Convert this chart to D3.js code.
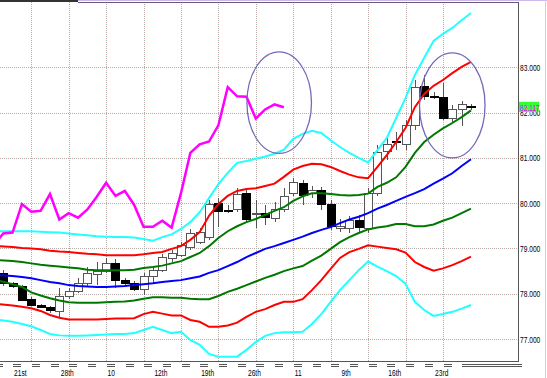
<!DOCTYPE html>
<html>
<head>
<meta charset="utf-8">
<script src="https://cdn.jsdelivr.net/npm/d3@7"></script>
<style>
  body { margin: 0; background: #fff; }
  svg { display: block; }
  text { font-family: "Liberation Sans", Arial, sans-serif; }
</style>
</head>
<body>
<svg id="drawing_region"></svg>
<script>
// x-axis labels (placed on candle index)
const dateLabels = ["21st", "28th", "10", "12th", "19th", "26th", "11", "9th", "16th", "23rd"];
const labelIdx   = [1, 6, 11, 16, 21, 26, 31, 36, 41, 46];
const gridIdx    = [3, 7, 11, 15, 19, 23, 27, 31, 35, 39, 43, 47];
const priceTicks = [77, 78, 79, 80, 81, 82, 83];

// candles
const opens  = [78.45,78.23,78.15,77.88,77.75,77.70,77.60,77.93,78.04,78.23,78.42,78.49,78.67,78.30,78.23,78.10,78.39,78.52,78.77,78.85,
                79.03,79.14,79.25,80.00,79.84,79.87,80.22,79.74,79.78,79.67,79.87,80.22,80.44,80.22,80.27,79.98,79.45,79.45,79.61,79.45,
                80.22,81.13,81.37,81.30,81.72,82.57,82.36,82.34,81.87,82.07,82.13];
const highs  = [78.52,78.25,78.19,77.92,77.77,77.73,78.12,78.12,78.35,78.60,78.70,78.79,78.76,78.35,78.28,78.46,78.61,78.88,78.97,79.14,
                79.44,79.45,80.07,80.11,79.95,80.34,80.33,80.07,79.95,80.02,80.33,80.55,80.51,80.38,80.36,80.07,79.65,79.71,79.74,80.33,
                81.28,81.46,81.57,81.83,82.72,82.83,82.45,82.65,82.16,82.25,82.19];
const lows   = [78.17,78.12,77.84,77.73,77.68,77.58,77.46,77.89,78.01,78.15,78.20,78.46,78.12,78.19,78.06,77.97,78.24,78.48,78.70,78.81,
                78.96,79.10,79.18,79.48,79.78,79.80,79.58,79.45,79.51,79.58,79.80,80.16,79.96,80.11,79.85,79.41,79.36,79.34,79.34,79.34,
                80.16,80.95,81.17,81.17,81.61,82.27,82.31,81.83,81.79,81.70,82.05];
const closes = [78.23,78.15,77.86,77.75,77.70,77.62,77.93,78.04,78.23,78.45,78.49,78.67,78.30,78.23,78.10,78.39,78.52,78.81,78.88,79.07,
                79.33,79.35,79.98,79.81,79.83,80.20,79.64,79.78,79.68,79.86,80.14,80.45,80.16,80.27,79.96,79.48,79.48,79.61,79.46,80.22,
                81.11,81.30,81.36,81.72,82.56,82.36,82.35,81.87,82.07,82.18,82.117];

// moving average and bands
const ma     = [78.41,78.39,78.37,78.34,78.30,78.26,78.23,78.19,78.17,78.16,78.15,78.15,78.16,78.17,78.19,78.21,78.23,78.26,78.28,78.30,
                78.34,78.38,78.46,78.52,78.61,78.70,78.81,78.90,78.99,79.05,79.12,79.19,79.26,79.34,79.41,79.47,79.56,79.64,79.70,79.78,
                79.88,79.96,80.05,80.14,80.22,80.31,80.43,80.54,80.66,80.82,80.97];
const up1    = [78.74,78.72,78.70,78.67,78.64,78.62,78.60,78.58,78.56,78.53,78.52,78.52,78.52,78.52,78.53,78.57,78.59,78.62,78.67,78.72,
                78.81,78.90,79.05,79.23,79.38,79.49,79.58,79.65,79.74,79.83,79.91,80.05,80.15,80.22,80.22,80.20,80.18,80.17,80.18,80.21,
                80.36,80.45,80.57,80.80,81.11,81.35,81.51,81.65,81.77,81.90,82.05];
const dn1    = [78.28,78.21,78.15,78.03,77.96,77.90,77.85,77.81,77.80,77.80,77.80,77.81,77.82,77.83,77.85,77.89,77.92,77.92,77.91,77.91,
                77.89,77.88,77.88,77.95,78.04,78.11,78.19,78.27,78.35,78.42,78.50,78.56,78.61,78.73,78.84,78.99,79.14,79.25,79.34,79.42,
                79.46,79.49,79.54,79.54,79.49,79.49,79.53,79.61,79.68,79.78,79.88];
const up2    = [79.05,79.03,79.01,79.00,78.98,78.95,78.93,78.92,78.90,78.88,78.87,78.85,78.85,78.85,78.85,78.87,78.90,78.92,78.99,79.05,
                79.19,79.36,79.72,79.98,80.16,80.27,80.31,80.33,80.38,80.43,80.58,80.74,80.82,80.87,80.86,80.80,80.71,80.63,80.57,80.55,
                80.80,81.06,81.35,81.66,82.12,82.41,82.59,82.72,82.87,83.01,83.12];
const dn2    = [77.77,77.74,77.71,77.68,77.62,77.53,77.47,77.43,77.43,77.43,77.43,77.44,77.45,77.45,77.46,77.55,77.60,77.56,77.52,77.52,
                77.42,77.38,77.27,77.27,77.30,77.36,77.49,77.60,77.66,77.75,77.82,77.82,77.88,78.08,78.30,78.55,78.79,78.92,78.99,79.07,
                79.04,79.01,78.98,78.91,78.70,78.59,78.51,78.56,78.63,78.72,78.82];
const up3    = [79.38,79.38,79.38,79.38,79.37,79.36,79.35,79.33,79.31,79.29,79.27,79.26,79.25,79.25,79.24,79.21,79.17,79.25,79.31,79.43,
                79.58,79.80,80.11,80.42,80.67,80.89,80.93,80.98,81.03,81.09,81.18,81.42,81.53,81.60,81.55,81.39,81.24,81.11,81.00,80.90,
                81.17,81.44,81.88,82.32,82.83,83.21,83.58,83.74,83.87,84.04,84.20];
const dn3    = [77.42,77.38,77.33,77.28,77.20,77.11,77.08,77.07,77.07,77.08,77.09,77.10,77.11,77.11,77.13,77.20,77.27,77.20,77.13,77.16,
                76.98,76.87,76.67,76.61,76.61,76.61,76.76,76.93,77.07,77.13,77.15,77.15,77.16,77.33,77.55,77.82,78.08,78.30,78.52,78.71,
                78.60,78.50,78.39,78.22,77.82,77.64,77.51,77.55,77.60,77.67,77.75];

const lagShift  = 20;       // lagging span: close drawn 20 bars back
const lastPrice = 82.117;
// marked areas: centre (bar index, price), radius (bars, price)
const circles = [
  { i: 29.5, p: 82.22, ri: 3.45, rp: 1.12 },
  { i: 48.0, p: 82.16, ri: 3.50, rp: 1.16 }
];

const width = 547, height = 378;
const plot = { left: 0, top: 2, right: 518.5, bottom: 361.5 };

const svg = d3.select('#drawing_region')
    .attr('width', width)
    .attr('height', height);

const xscale = d3.scaleLinear().domain([0, 50]).range([3.2, 471]);
const yscale = d3.scaleLinear().domain([77, 83]).range([339, 67.3]);

svg.append('defs').append('clipPath').attr('id', 'plotclip')
  .append('rect')
    .attr('x', plot.left).attr('y', plot.top)
    .attr('width', plot.right - plot.left).attr('height', plot.bottom - plot.top);

// grid (two dot colours, like the original)
const grid = svg.append('g');
[['#d6a2a2', 0], ['#98b6ae', 2]].forEach(([col, off]) => {
  grid.selectAll(null).data(priceTicks).enter().append('line')
      .attr('x1', plot.left).attr('x2', plot.right)
      .attr('y1', d => Math.round(yscale(d)) + 0.5).attr('y2', d => Math.round(yscale(d)) + 0.5)
      .attr('stroke', col).attr('stroke-dasharray', '1 3').attr('stroke-dashoffset', off);
  grid.selectAll(null).data(gridIdx).enter().append('line')
      .attr('x1', d => Math.round(xscale(d)) + 0.5).attr('x2', d => Math.round(xscale(d)) + 0.5)
      .attr('y1', plot.top).attr('y2', plot.bottom)
      .attr('stroke', col).attr('stroke-dasharray', '1 3').attr('stroke-dashoffset', off);
});

const chart = svg.append('g').attr('clip-path', 'url(#plotclip)');

// candles
const bars = d3.range(opens.length).map(i => ({ i, o: opens[i], h: highs[i], l: lows[i], c: closes[i] }));
const bw = 8;
const candle = chart.append('g').attr('shape-rendering', 'crispEdges');
candle.selectAll('line').data(bars).enter().append('line')
    .attr('x1', d => Math.round(xscale(d.i)) + 0.5).attr('x2', d => Math.round(xscale(d.i)) + 0.5)
    .attr('y1', d => yscale(d.h)).attr('y2', d => yscale(d.l))
    .attr('stroke', '#555');
candle.selectAll('rect').data(bars).enter().append('rect')
    .attr('x', d => Math.round(xscale(d.i) - bw / 2) + 0.5)
    .attr('y', d => yscale(Math.max(d.o, d.c)))
    .attr('width', bw)
    .attr('height', d => Math.max(1, Math.abs(yscale(d.o) - yscale(d.c))))
    .attr('fill', d => d.c < d.o ? '#000' : '#fff')
    .attr('stroke', d => d.c < d.o ? '#000' : '#555');

// bands and average (first point pulled to the left edge, as in the original)
const line = d3.line().x((d, i) => i === 0 ? plot.left : xscale(i)).y(d => yscale(d));
const series = [
  { v: up3, col: '#22ffff' }, { v: dn3, col: '#22ffff' },
  { v: up2, col: '#ff0000' }, { v: dn2, col: '#ff0000' },
  { v: up1, col: '#007800' }, { v: dn1, col: '#007800' },
  { v: ma,  col: '#0000ff' }
];
chart.selectAll('path.band').data(series).enter().append('path')
    .attr('class', 'band')
    .attr('d', d => line(d.v))
    .attr('fill', 'none')
    .attr('stroke', d => d.col)
    .attr('stroke-width', 2);

// lagging span
const lag = d3.range(lagShift - 1, closes.length).map(k => ({ i: k - lagShift, v: closes[k] }));
chart.append('path')
    .attr('d', d3.line().x(d => xscale(d.i)).y(d => yscale(d.v))(lag))
    .attr('fill', 'none')
    .attr('stroke', '#ff00ff')
    .attr('stroke-width', 2.5);

// circles
const step = xscale(1) - xscale(0);
const pxPerUnit = yscale(82) - yscale(83);
chart.selectAll('ellipse').data(circles).enter().append('ellipse')
    .attr('cx', d => xscale(d.i)).attr('cy', d => yscale(d.p))
    .attr('rx', d => d.ri * step).attr('ry', d => d.rp * pxPerUnit)
    .attr('fill', 'none').attr('stroke', '#7468b8').attr('stroke-width', 1.3);

// frame
const frame = svg.append('g').attr('shape-rendering', 'crispEdges');
frame.append('line').attr('x1', 0).attr('x2', 547).attr('y1', 0.5).attr('y2', 0.5).attr('stroke', '#cdb8ee');
frame.append('line').attr('x1', 0).attr('x2', 78).attr('y1', 1).attr('y2', 1).attr('stroke', '#333').attr('stroke-width', 2);
frame.append('line').attr('x1', 78).attr('x2', plot.right).attr('y1', 2.5).attr('y2', 2.5).attr('stroke', '#6a5a7a');
frame.append('line').attr('x1', plot.right).attr('x2', plot.right).attr('y1', 2).attr('y2', plot.bottom).attr('stroke', '#555');
frame.append('line').attr('x1', 0).attr('x2', plot.right).attr('y1', plot.bottom).attr('y2', plot.bottom).attr('stroke', '#555');
frame.append('line').attr('x1', 545.5).attr('x2', 545.5).attr('y1', 0).attr('y2', height).attr('stroke', '#d8c8f0');

// x-axis marks under the frame
const markIdx = d3.range(0, 25).map(k => -0.5 + 2 * k);
[364.5, 366.5].forEach(yy => {
  frame.selectAll(null).data(markIdx).enter().append('line')
      .attr('x1', d => xscale(d) - 4).attr('x2', d => xscale(d) + 4)
      .attr('y1', yy).attr('y2', yy).attr('stroke', '#555');
  frame.append('line')
      .attr('x1', xscale(49)).attr('x2', plot.right + 3)
      .attr('y1', yy).attr('y2', yy).attr('stroke', '#555');
});

// the original uses a narrow bitmap font: squeeze the text horizontally
const squeeze = 0.7;
const place = (x, y) => `translate(${x},${y}) scale(${squeeze},1)`;

// labels
svg.selectAll('text.xl').data(dateLabels).enter().append('text')
    .attr('class', 'xl')
    .attr('transform', (d, i) => place(xscale(labelIdx[i]) + 1.5, 376))
    .attr('font-size', '9.5px')
    .attr('fill', '#000')
    .text(d => d);

svg.selectAll('text.yl').data(priceTicks).enter().append('text')
    .attr('class', 'yl')
    .attr('transform', d => place(520, yscale(d) + 3.5))
    .attr('font-size', '9.5px')
    .attr('fill', '#000')
    .text(d => d3.format('.3f')(d));

// last price tag
svg.append('rect')
    .attr('x', 519).attr('y', yscale(lastPrice) - 5.5)
    .attr('width', 20).attr('height', 10)
    .attr('fill', '#33ff33');
svg.append('text')
    .attr('transform', place(520, yscale(lastPrice) + 3.5))
    .attr('font-size', '9.5px')
    .attr('fill', '#ff00ff')
    .text(d3.format('.3f')(lastPrice));
</script>
</body>
</html>
